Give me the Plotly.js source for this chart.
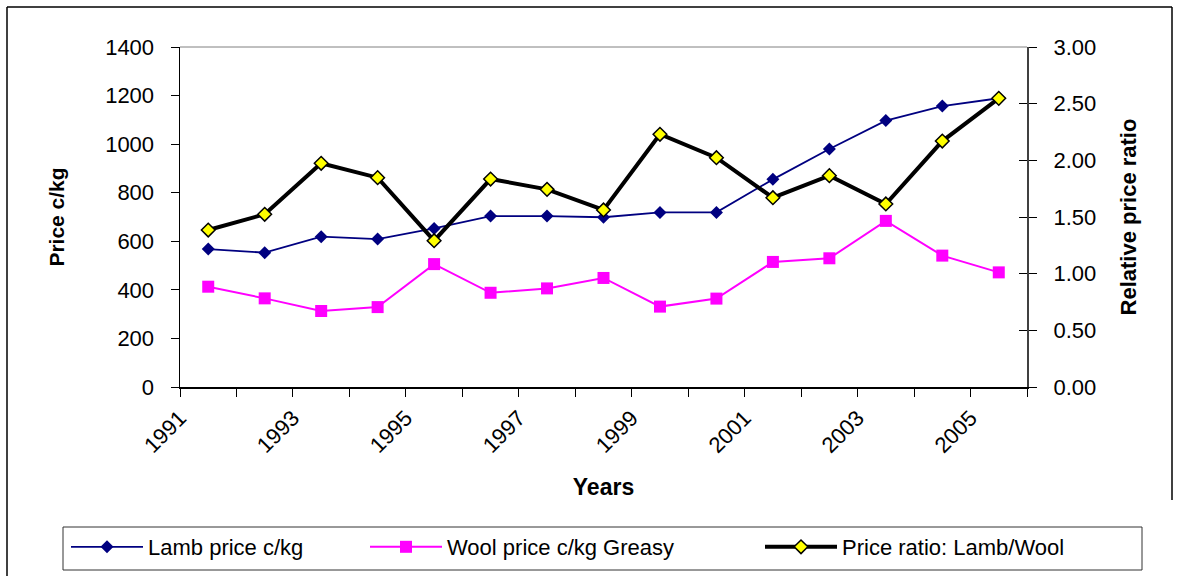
<!DOCTYPE html>
<html>
<head>
<meta charset="utf-8">
<script src="https://cdn.plot.ly/plotly-3.0.1.min.js"></script>
<style>
  html, body { margin: 0; padding: 0; background: #fff; }
  #chart { width: 1185px; height: 576px; }
</style>
</head>
<body>
<div id="chart"></div>
<script>
// ---- Data ----
const years = [1991, 1992, 1993, 1994, 1995, 1996, 1997, 1998, 1999, 2000, 2001, 2002, 2003, 2004, 2005];
const lambPrice = [568, 553, 619, 609, 653, 704, 704, 699, 719, 719, 855, 980, 1097, 1157, 1189];
const woolPrice = [413, 365, 313, 329, 506, 388, 406, 449, 331, 364, 515, 530, 684, 541, 472];
const priceRatio = [1.385, 1.524, 1.974, 1.847, 1.291, 1.835, 1.744, 1.562, 2.23, 2.023, 1.67, 1.865, 1.615, 2.17, 2.547];

const seriesNames = ['Lamb price c/kg', 'Wool price c/kg Greasy', 'Price ratio: Lamb/Wool'];
const xTitle = 'Years';
const yTitleLeft = 'Price c/kg';
const yTitleRight = 'Relative price ratio';

// values are plotted in the middle of each year interval
const xMid = years.map(y => y + 0.5);

const FONT = 'Liberation Sans, Arial, Helvetica, sans-serif';
const W = 1185, H = 576;

const traces = [
  {
    x: xMid, y: lambPrice, name: seriesNames[0], type: 'scatter', mode: 'lines+markers',
    line: { color: '#000080', width: 1.8 },
    marker: { symbol: 'diamond', size: 10, color: '#000080' },
    legendwidth: 212
  },
  {
    x: xMid, y: woolPrice, name: seriesNames[1], type: 'scatter', mode: 'lines+markers',
    line: { color: '#FF00FF', width: 2 },
    marker: { symbol: 'square', size: 12, color: '#FF00FF' },
    legendwidth: 308
  },
  {
    x: xMid, y: priceRatio, name: seriesNames[2], type: 'scatter', mode: 'lines+markers',
    yaxis: 'y2',
    line: { color: '#000000', width: 4 },
    marker: { symbol: 'diamond', size: 10.5, color: '#FFFF00', line: { color: '#000000', width: 1.5 } },
    legendwidth: 235
  },
  {
    // helper trace so the inside tick marks of the right axis get drawn
    x: [xMid[0]], y: [null], yaxis: 'y3', type: 'scatter', mode: 'markers',
    showlegend: false, hoverinfo: 'skip'
  }
];

const px2xp = px => (px - 180) / 847;
const px2yp = py => (387 - py) / 340;

const layout = {
  width: W, height: H,
  margin: { l: 180, r: 158, t: 47, b: 189, pad: 0, autoexpand: false },
  paper_bgcolor: '#ffffff', plot_bgcolor: '#ffffff',
  font: { family: FONT, size: 22, color: '#000' },
  showlegend: true,
  xaxis: {
    type: 'linear', range: [1991, 2006], autorange: false,
    tick0: 1991, dtick: 2, tickformat: 'd', tickangle: -45,
    ticks: 'outside', ticklen: 8, tickwidth: 1, tickcolor: '#000',
    minor: { dtick: 1, ticks: 'outside', ticklen: 8, tickwidth: 1, tickcolor: '#000', showgrid: false },
    showline: true, linecolor: '#000', linewidth: 1.5,
    showgrid: false, zeroline: false,
    tickfont: { family: FONT, size: 22, color: '#000' },
    automargin: true,
    title: { text: xTitle, font: { family: FONT, size: 23, color: '#000', weight: 'bold' }, standoff: 22 }
  },
  yaxis: {
    range: [0, 1400], autorange: false, dtick: 200, tickformat: 'd',
    ticks: 'outside', ticklen: 8, tickwidth: 1, tickcolor: '#000',
    showline: true, linecolor: '#000', linewidth: 1.5,
    showgrid: false, zeroline: false,
    ticklabelstandoff: 12,
    tickfont: { family: FONT, size: 22, color: '#000' },
    automargin: true,
    title: { text: yTitleLeft, font: { family: FONT, size: 21, color: '#000', weight: 'bold' }, standoff: 35 }
  },
  yaxis2: {
    overlaying: 'y', side: 'right',
    range: [0, 3], autorange: false, dtick: 0.5, tickformat: '.2f',
    ticks: 'outside', ticklen: 8, tickwidth: 1, tickcolor: '#000',
    showline: true, linecolor: '#404040', linewidth: 2,
    showgrid: false, zeroline: false,
    ticklabelstandoff: 12,
    tickfont: { family: FONT, size: 22, color: '#000' },
    automargin: true,
    title: { text: yTitleRight, font: { family: FONT, size: 22, color: '#000', weight: 'bold' }, standoff: 25 }
  },
  yaxis3: {
    overlaying: 'y', side: 'right',
    range: [0, 3], autorange: false, dtick: 0.5,
    ticks: 'inside', ticklen: 8, tickwidth: 1, tickcolor: '#000',
    showticklabels: false, showline: false, showgrid: false, zeroline: false
  },
  legend: {
    orientation: 'h',
    x: px2xp(66), xanchor: 'left',
    y: px2yp(526), yanchor: 'top',
    borderwidth: 0, bgcolor: 'rgba(0,0,0,0)',
    itemwidth: 72,
    font: { family: FONT, size: 22, color: '#000' },
    traceorder: 'normal'
  },
  shapes: [
    // grey plot-area top border
    { type: 'line', xref: 'paper', yref: 'paper', x0: 0, x1: 1, y0: 1, y1: 1, line: { color: '#808080', width: 1 } },
    // legend frame
    { type: 'rect', xref: 'paper', yref: 'paper', x0: px2xp(63), x1: px2xp(1142), y0: px2yp(527), y1: px2yp(570), line: { color: '#333', width: 1 }, fillcolor: 'rgba(0,0,0,0)' },
    // outer chart frame
    { type: 'line', xref: 'paper', yref: 'paper', x0: px2xp(7), x1: px2xp(1172), y0: px2yp(7), y1: px2yp(7), line: { color: '#000', width: 1.5 } },
    { type: 'line', xref: 'paper', yref: 'paper', x0: px2xp(7), x1: px2xp(7), y0: px2yp(7), y1: px2yp(577), line: { color: '#000', width: 1.5 } },
    { type: 'line', xref: 'paper', yref: 'paper', x0: px2xp(1172), x1: px2xp(1172), y0: px2yp(7), y1: px2yp(500), line: { color: '#000', width: 1.5 } }
  ]
};

Plotly.newPlot('chart', traces, layout, { displayModeBar: false, staticPlot: true });
</script>
</body>
</html>
